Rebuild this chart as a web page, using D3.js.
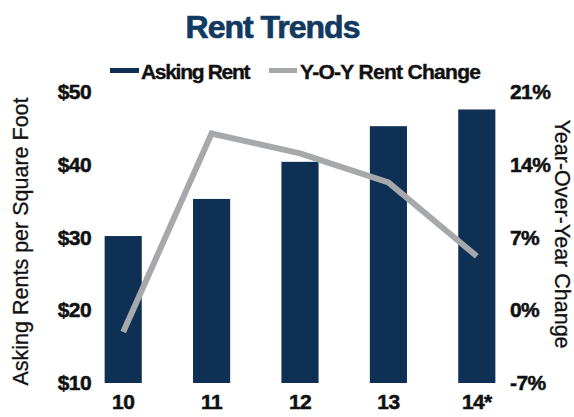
<!DOCTYPE html>
<html><head><meta charset="utf-8">
<script src="https://cdn.jsdelivr.net/npm/d3@7"></script>
<style>
html,body{margin:0;padding:0;background:#fff;}
svg text{font-family:"Liberation Sans",Arial,sans-serif;}
</style></head>
<body>
<svg id="chart" width="574" height="417"></svg>
<script>
const categories = ["10","11","12","13","14*"];
const askingRent = [30.2, 35.3, 40.4, 45.3, 47.6];
const yoyChange = [-2.1, 17.0, 15.1, 12.3, 5.2];
const leftTicks = [10,20,30,40,50];
const rightTicks = [-7,0,7,14,21];
const title = "Rent Trends";
const seriesNames = ["Asking Rent","Y-O-Y Rent Change"];

const barColor = "#0d3054", lineColor = "#a6a8ab", titleColor = "#12395f", textColor = "#111";
const svg = d3.select("#chart");

const x = d3.scaleBand().domain(categories).range([79,521]).paddingInner(0.58).paddingOuter(0.29);
const yL = d3.scaleLinear().domain([10,50]).range([383,92]);
const yR = d3.scaleLinear().domain([-7,21]).range([383,92]);

// title
svg.append("text").attr("x",272.5).attr("y",38).attr("text-anchor","middle")
  .attr("font-size",32).attr("font-weight","bold").attr("fill",titleColor)
  .attr("stroke",titleColor).attr("stroke-width",0.7)
  .attr("letter-spacing","-1px").text(title);

// legend
const leg = svg.append("g");
leg.append("rect").attr("x",110).attr("y",68).attr("width",29).attr("height",5).attr("fill",barColor);
leg.append("text").attr("x",141).attr("y",79).attr("font-size",21).attr("font-weight","bold")
  .attr("letter-spacing","-1.3px").attr("fill",textColor).attr("stroke",textColor).attr("stroke-width",0.4)
  .text(seriesNames[0]);
leg.append("rect").attr("x",269).attr("y",68).attr("width",28).attr("height",5).attr("fill",lineColor);
leg.append("text").attr("x",300).attr("y",79).attr("font-size",21).attr("font-weight","bold")
  .attr("letter-spacing","-0.7px").attr("fill",textColor).attr("stroke",textColor).attr("stroke-width",0.4)
  .text(seriesNames[1]);

// bars
svg.append("g").selectAll("rect").data(askingRent).join("rect")
  .attr("x",(d,i)=>x(categories[i])).attr("width",x.bandwidth())
  .attr("y",d=>yL(d)).attr("height",d=>yL(10)-yL(d)).attr("fill",barColor);

// line
const line = d3.line().x((d,i)=>x(categories[i])+x.bandwidth()/2).y(d=>yR(d));
svg.append("path").datum(yoyChange).attr("d",line).attr("fill","none")
  .attr("stroke",lineColor).attr("stroke-width",6).attr("stroke-linejoin","miter");

function styleTicks(g){
  g.select(".domain").remove();
  g.selectAll("text").attr("font-size",21).attr("font-weight","bold").attr("fill",textColor)
    .attr("stroke",textColor).attr("stroke-width",0.5)
    .attr("letter-spacing","-0.6px").style("font-family","'Liberation Sans',Arial,sans-serif");
}

// left axis
const axL = d3.axisLeft(yL).tickValues(leftTicks).tickFormat(d=>"$"+d).tickSize(0).tickPadding(0);
const gL = svg.append("g").attr("transform","translate(91,0)").call(axL);
styleTicks(gL);

// right axis
const axR = d3.axisRight(yR).tickValues(rightTicks).tickFormat(d=>d+"%").tickSize(0).tickPadding(0);
const gR = svg.append("g").attr("transform","translate(510,0)").call(axR);
styleTicks(gR);

// x axis
const axX = d3.axisBottom(x).tickSize(0).tickPadding(0);
const gX = svg.append("g").attr("transform","translate(0,394)").call(axX);
styleTicks(gX);
gX.selectAll("text").attr("dy","0.71em");

// axis titles
svg.append("text").attr("transform","translate(28,241.5) rotate(-90)").attr("text-anchor","middle")
  .attr("font-size",21.5).attr("fill",textColor).attr("stroke",textColor).attr("stroke-width",0.3)
  .text("Asking Rents per Square Foot");
svg.append("text").attr("transform","translate(555,234) rotate(90)").attr("text-anchor","middle")
  .attr("font-size",21.5).attr("fill",textColor).attr("stroke",textColor).attr("stroke-width",0.3)
  .text("Year-Over-Year Change");
</script>
</body></html>
